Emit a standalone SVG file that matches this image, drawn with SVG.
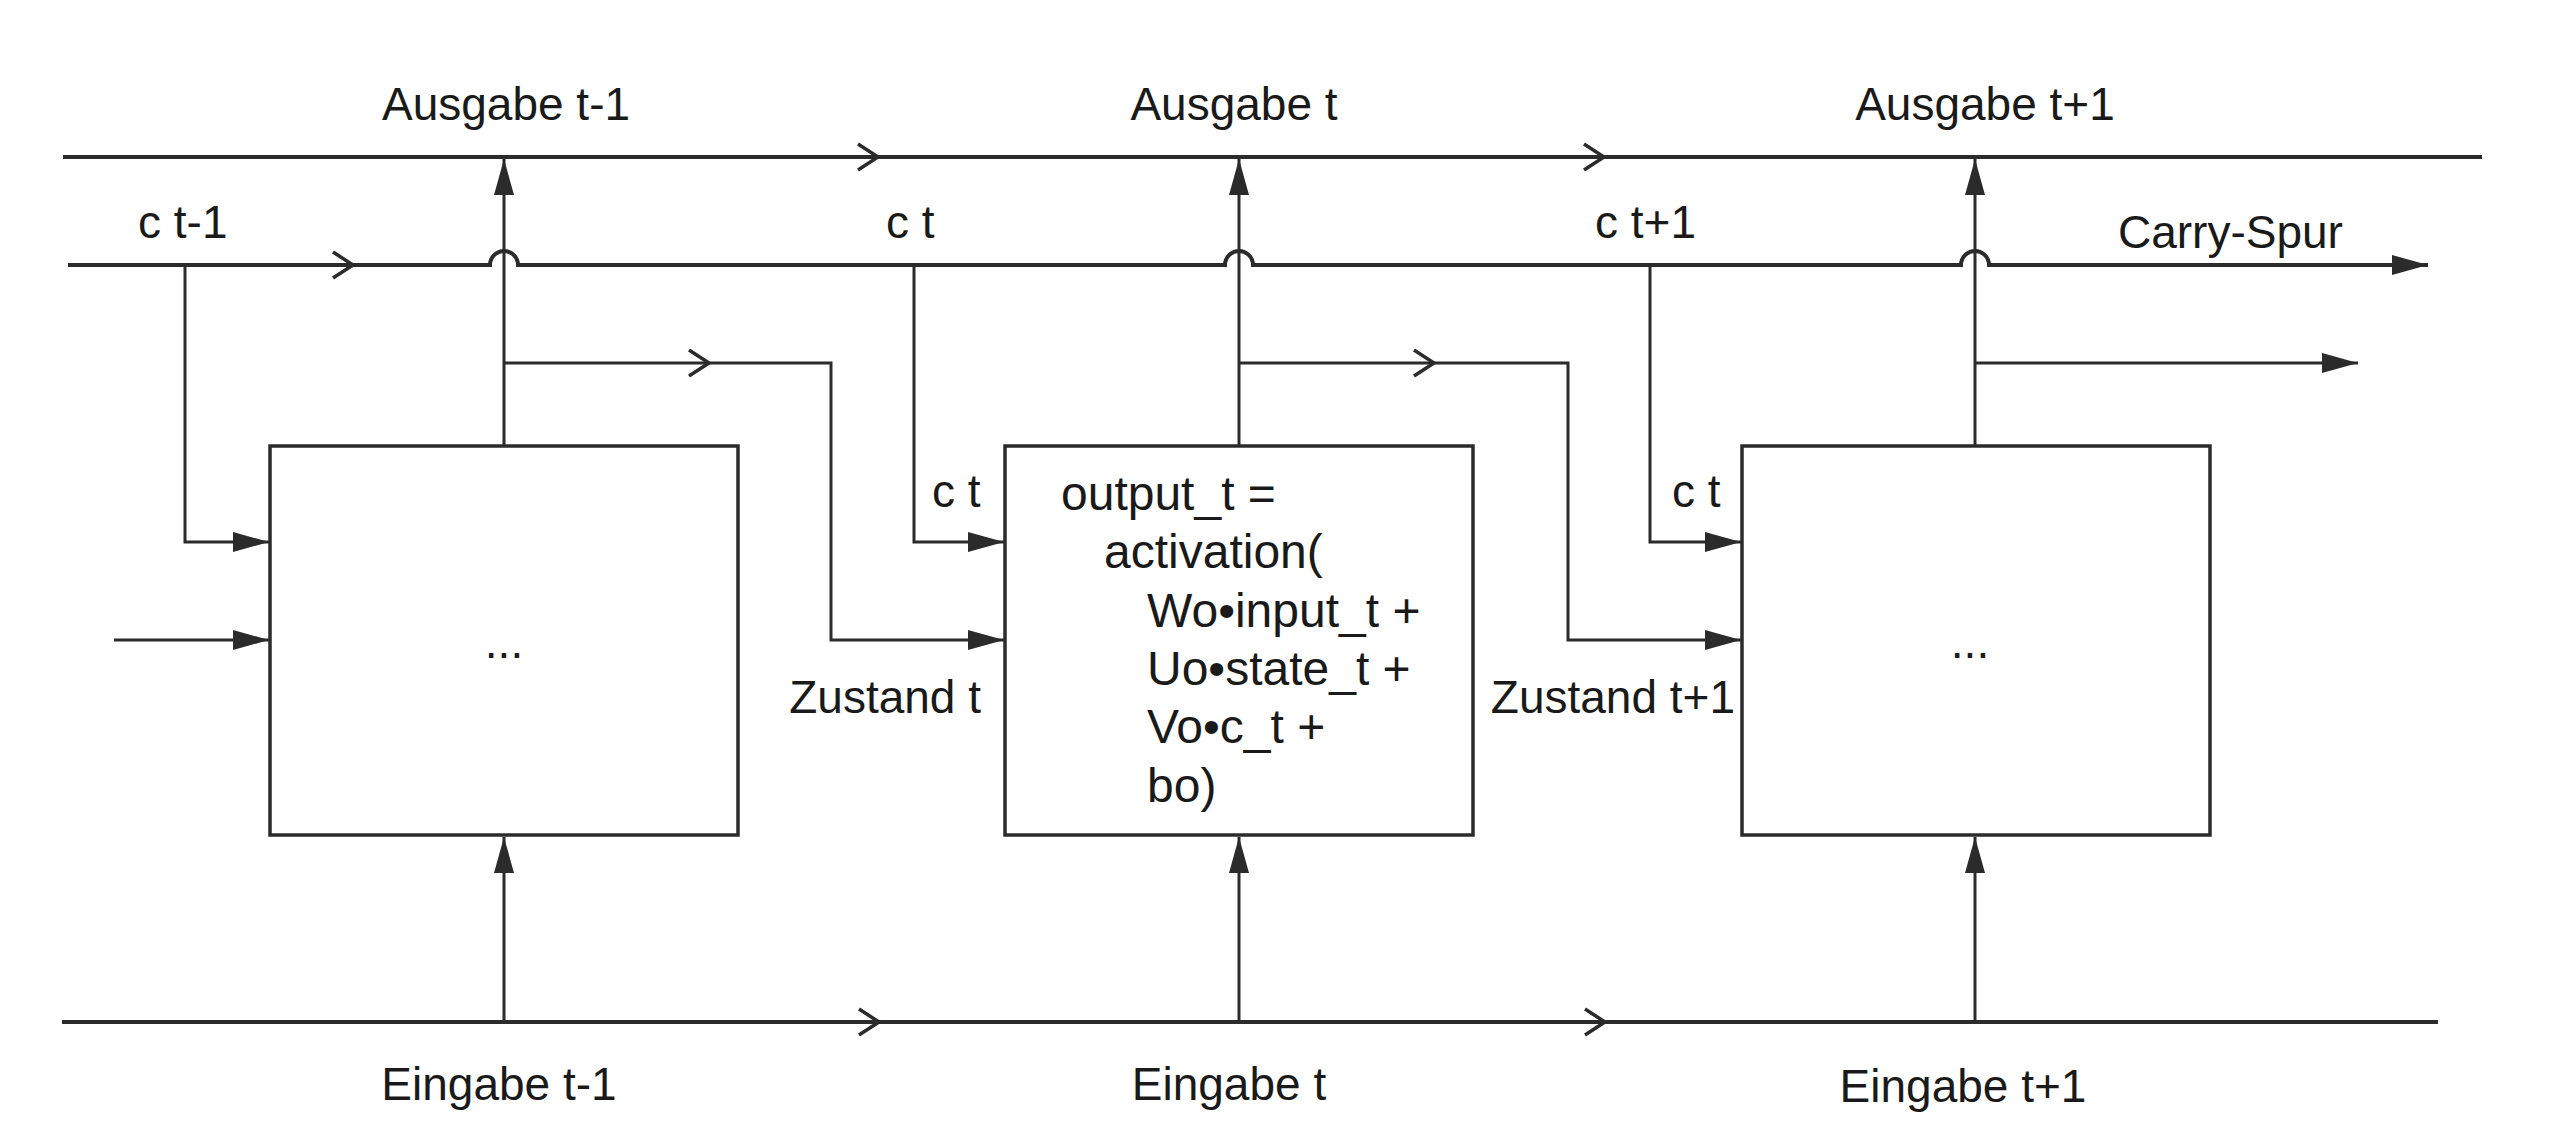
<svg xmlns="http://www.w3.org/2000/svg" xmlns:xlink="http://www.w3.org/1999/xlink" width="2576" height="1148" viewBox="0 0 2576 1148">
<style>
  .ln{fill:none;stroke:#2b2b2b;stroke-width:3}
  .main{fill:none;stroke:#2b2b2b;stroke-width:4}
  .box{fill:#fff;stroke:#2b2b2b;stroke-width:3.5}
  .chev{fill:none;stroke:#2b2b2b;stroke-width:3.5;stroke-linejoin:miter}
  text{font-family:"Liberation Sans",Arial,sans-serif;font-size:46px;fill:#1a1a1a}
  .f{font-size:48px}
  .mid{text-anchor:middle}
  .end{text-anchor:end}
</style>
<defs>
  <marker id="ah" markerUnits="userSpaceOnUse" markerWidth="40" markerHeight="24" refX="36" refY="10" orient="auto">
    <path d="M0,0 L36,10 L0,20 z" fill="#2b2b2b"/>
  </marker>
  <path id="chev" class="chev" d="M-20,-13 L0,0 L-20,13"/>
</defs>
<rect width="2576" height="1148" fill="#fff"/>

<g id="connectors">
  <!-- output line top -->
  <line class="main" x1="63" y1="157" x2="2482" y2="157"/>
  <use xlink:href="#chev" x="878" y="157"/>
  <use xlink:href="#chev" x="1604" y="157"/>
  <!-- carry line with hops -->
  <path class="main" d="M68,265 L490,265 A14,14 0 0 1 518,265 L1225,265 A14,14 0 0 1 1253,265 L1961,265 A14,14 0 0 1 1989,265 L2428,265" marker-end="url(#ah)"/>
  <use xlink:href="#chev" x="353" y="265"/>
  <!-- input line bottom -->
  <line class="main" x1="62" y1="1022" x2="2438" y2="1022"/>
  <use xlink:href="#chev" x="879" y="1022"/>
  <use xlink:href="#chev" x="1605" y="1022"/>

  <!-- outputs up -->
  <line class="ln" x1="504" y1="446" x2="504" y2="159" marker-end="url(#ah)"/>
  <line class="ln" x1="1239" y1="446" x2="1239" y2="159" marker-end="url(#ah)"/>
  <line class="ln" x1="1975" y1="446" x2="1975" y2="159" marker-end="url(#ah)"/>
  <!-- inputs up -->
  <line class="ln" x1="504" y1="1022" x2="504" y2="837" marker-end="url(#ah)"/>
  <line class="ln" x1="1239" y1="1022" x2="1239" y2="837" marker-end="url(#ah)"/>
  <line class="ln" x1="1975" y1="1022" x2="1975" y2="837" marker-end="url(#ah)"/>

  <!-- carry drops -->
  <path class="ln" d="M185,265 L185,542 L269,542" marker-end="url(#ah)"/>
  <path class="ln" d="M914,265 L914,542 L1004,542" marker-end="url(#ah)"/>
  <path class="ln" d="M1650,265 L1650,542 L1741,542" marker-end="url(#ah)"/>

  <!-- state branches -->
  <line class="ln" x1="114" y1="640" x2="269" y2="640" marker-end="url(#ah)"/>
  <path class="ln" d="M504,363 L831,363 L831,640 L1004,640" marker-end="url(#ah)"/>
  <use xlink:href="#chev" x="709" y="363"/>
  <path class="ln" d="M1239,363 L1568,363 L1568,640 L1741,640" marker-end="url(#ah)"/>
  <use xlink:href="#chev" x="1434" y="363"/>
  <line class="ln" x1="1975" y1="363" x2="2358" y2="363" marker-end="url(#ah)"/>
</g>

<g id="cell1">
  <rect class="box" x="270" y="446" width="468" height="389"/>
  <text class="mid" x="504" y="658">...</text>
</g>
<g id="cell2">
  <rect class="box" x="1005" y="446" width="468" height="389"/>
  <text class="f" x="1061" y="510">output_t =</text>
  <text class="f" x="1104" y="568">activation(</text>
  <text class="f" x="1147" y="627">Wo•input_t +</text>
  <text class="f" x="1147" y="685">Uo•state_t +</text>
  <text class="f" x="1147" y="743">Vo•c_t +</text>
  <text class="f" x="1147" y="802">bo)</text>
</g>
<g id="cell3">
  <rect class="box" x="1742" y="446" width="468" height="389"/>
  <text class="mid" x="1970" y="658">...</text>
</g>

<g id="labels">
  <text class="mid" x="506" y="120">Ausgabe t-1</text>
  <text class="mid" x="1234" y="120">Ausgabe t</text>
  <text class="mid" x="1985" y="120">Ausgabe t+1</text>
  <text x="138" y="238">c t-1</text>
  <text x="886" y="238">c t</text>
  <text x="1595" y="238">c t+1</text>
  <text x="2118" y="248">Carry-Spur</text>
  <text x="932" y="507">c t</text>
  <text x="1672" y="507">c t</text>
  <text class="end" x="981" y="713">Zustand t</text>
  <text class="end" x="1735" y="713">Zustand t+1</text>
  <text class="mid" x="499" y="1100">Eingabe t-1</text>
  <text class="mid" x="1229" y="1100">Eingabe t</text>
  <text class="mid" x="1963" y="1102">Eingabe t+1</text>
</g>
</svg>
